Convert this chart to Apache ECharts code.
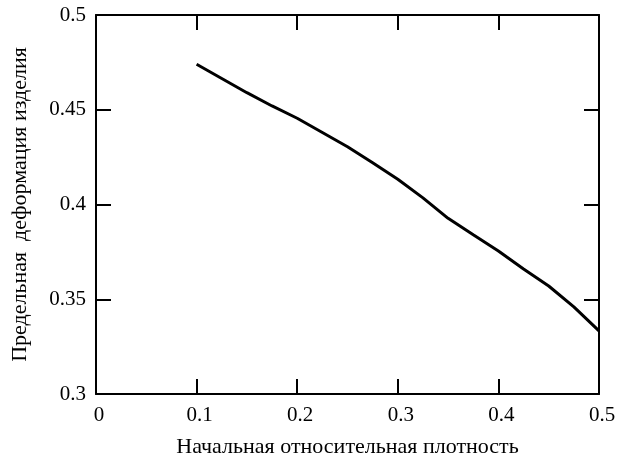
<!DOCTYPE html>
<html>
<head>
<meta charset="utf-8">
<script src="https://cdn.jsdelivr.net/npm/echarts@6/dist/echarts.min.js"></script>
<style>
  html, body { margin: 0; padding: 0; background: #fff; }
  #chart { width: 628px; height: 456px; }
</style>
</head>
<body>
<div id="chart"></div>
<script>
// начальная относительная плотность
const density = [0.1, 0.125, 0.15, 0.175, 0.2, 0.225, 0.25, 0.275, 0.3, 0.325, 0.35, 0.375, 0.4, 0.425, 0.45, 0.475, 0.5]
// предельная деформация изделия
const strain = [0.474, 0.4665, 0.459, 0.452, 0.4455, 0.438, 0.4305, 0.422, 0.4133, 0.4035, 0.3927, 0.384, 0.3755, 0.366, 0.357, 0.346, 0.3333]

const xTitle = 'Начальная относительная плотность'
const yTitle = 'Предельная  деформация изделия'

const font = '"Liberation Serif", "Times New Roman", serif'

const chart = echarts.init(document.getElementById('chart'))

const tickStyle = { show: true, inside: true, length: 15, lineStyle: { color: '#000', width: 2 } }
const lineStyle = { show: true, onZero: false, lineStyle: { color: '#000', width: 2 } }

const option = {
  animation: false,
  backgroundColor: '#fff',
  grid: { left: 96, top: 15, right: 29, bottom: 62, containLabel: false, outerBoundsMode: 'none' },
  xAxis: [
    {
      type: 'value',
      min: 0,
      max: 0.5,
      interval: 0.1,
      name: xTitle,
      nameLocation: 'middle',
      nameGap: 42,
      nameTextStyle: { fontFamily: font, fontSize: 22, color: '#000' },
      axisLine: lineStyle,
      axisTick: tickStyle,
      axisLabel: { fontFamily: font, fontSize: 21, color: '#000', margin: 11, padding: [0, 0, 0, 6] },
      splitLine: { show: false }
    },
    {
      type: 'value',
      position: 'top',
      min: 0,
      max: 0.5,
      interval: 0.1,
      axisLine: lineStyle,
      axisTick: tickStyle,
      axisLabel: { show: false },
      splitLine: { show: false }
    }
  ],
  yAxis: [
    {
      type: 'value',
      min: 0.3,
      max: 0.5,
      interval: 0.05,
      name: yTitle,
      nameLocation: 'middle',
      nameGap: 65,
      nameTextStyle: { fontFamily: font, fontSize: 22, color: '#000' },
      axisLine: lineStyle,
      axisTick: tickStyle,
      axisLabel: {
        fontFamily: font,
        fontSize: 21,
        color: '#000',
        margin: 10,
        padding: [8, 0, 0, 0],
        formatter: v => String(+v.toFixed(2))
      },
      splitLine: { show: false }
    },
    {
      type: 'value',
      position: 'right',
      min: 0.3,
      max: 0.5,
      interval: 0.05,
      axisLine: lineStyle,
      axisTick: tickStyle,
      axisLabel: { show: false },
      splitLine: { show: false }
    }
  ],
  series: [
    {
      type: 'line',
      data: density.map((x, i) => [x, strain[i]]),
      showSymbol: false,
      lineStyle: { color: '#000', width: 3 },
      clip: true
    }
  ]
}

chart.setOption(option)
</script>
</body>
</html>
